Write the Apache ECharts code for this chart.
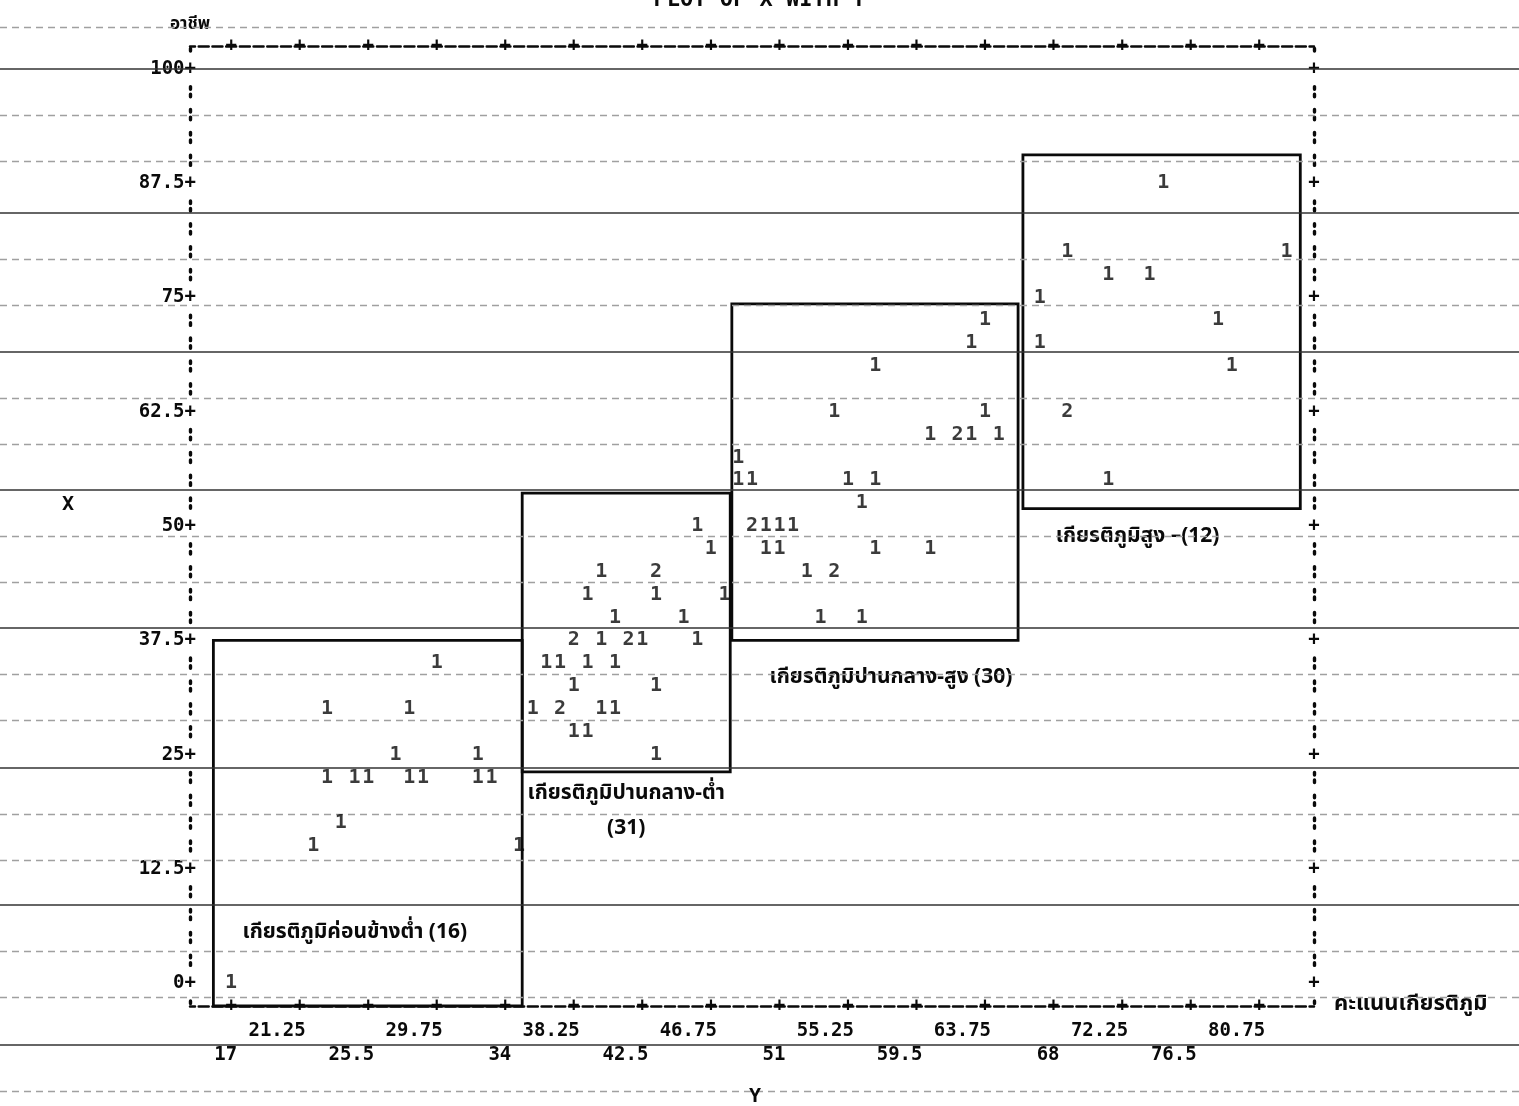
<!DOCTYPE html>
<html>
<head>
<meta charset="utf-8">
<script src="https://cdn.jsdelivr.net/npm/echarts@6/dist/echarts.min.js"></script>
<style>
html,body{margin:0;padding:0;background:#fff;}
#chart{width:1519px;height:1106px;}
</style>
</head>
<body>
<div id="chart"></div>
<script>
// ---------------- DATA ----------------
const xTickValues = [17, 21.25, 25.5, 29.75, 34, 38.25, 42.5, 46.75, 51, 55.25, 59.5, 63.75, 68, 72.25, 76.5, 80.75];
const yTickValues = [0, 12.5, 25, 37.5, 50, 62.5, 75, 87.5, 100];

// Y score (prestige score) of each plotted character
const pointX = [
  // group 1
  29.75, 22.95, 28.05, 27.2, 32.3, 22.95, 24.65, 25.5, 28.05, 28.9, 32.3, 33.15, 23.8, 22.1, 34.85, 17,
  // group 2
  45.9, 46.75, 39.95, 43.35, 39.1, 43.35, 47.6, 40.8, 45.05, 38.25, 39.95, 41.65, 42.5, 45.9,
  36.55, 37.4, 39.1, 40.8, 38.25, 43.35, 35.7, 37.4, 39.95, 40.8, 38.25, 39.1, 43.35,
  // group 3
  63.75, 62.9, 56.95, 54.4, 63.75, 60.35, 62.05, 62.9, 64.6, 48.45, 48.45, 49.3, 55.25, 56.95,
  56.1, 49.3, 50.15, 51, 51.85, 50.15, 51, 56.95, 60.35, 52.7, 54.4, 53.55, 56.1,
  // group 4
  74.8, 68.85, 82.45, 71.4, 73.95, 67.15, 78.2, 67.15, 79.05, 68.85, 71.4
];
// X (occupation) of each plotted character
const pointY = [
  35, 30, 30, 25, 25, 22.5, 22.5, 22.5, 22.5, 22.5, 22.5, 22.5, 17.5, 15, 15, 0,
  50, 47.5, 45, 45, 42.5, 42.5, 42.5, 40, 40, 37.5, 37.5, 37.5, 37.5, 37.5,
  35, 35, 35, 35, 32.5, 32.5, 30, 30, 30, 30, 27.5, 27.5, 25,
  72.5, 70, 67.5, 62.5, 62.5, 60, 60, 60, 60, 57.5, 55, 55, 55, 55,
  52.5, 50, 50, 50, 50, 47.5, 47.5, 47.5, 47.5, 45, 45, 40, 40,
  87.5, 80, 80, 77.5, 77.5, 75, 72.5, 70, 67.5, 62.5, 55
];
// number of cases printed at each position
const pointCount = [
  1, 1, 1, 1, 1, 1, 1, 1, 1, 1, 1, 1, 1, 1, 1, 1,
  1, 1, 1, 2, 1, 1, 1, 1, 1, 2, 1, 2, 1, 1,
  1, 1, 1, 1, 1, 1, 1, 2, 1, 1, 1, 1, 1,
  1, 1, 1, 1, 1, 1, 2, 1, 1, 1, 1, 1, 1, 1,
  1, 2, 1, 1, 1, 1, 1, 1, 1, 1, 2, 1, 1,
  1, 1, 1, 1, 1, 1, 1, 1, 1, 2, 1
];

// prestige groups (hand-drawn boxes)
const groupNames = ['เกียรติภูมิค่อนข้างต่ำ', 'เกียรติภูมิปานกลาง-ต่ำ', 'เกียรติภูมิปานกลาง-สูง', 'เกียรติภูมิสูง –'];
const groupCounts = [16, 31, 30, 12];
const boxXMin = [15.9, 35.05, 48.05, 66.1];
const boxXMax = [35.05, 47.95, 65.8, 83.3];
const boxYMin = [-2.5, 23.1, 37.5, 51.9];
const boxYMax = [37.5, 53.6, 74.3, 90.6];

// ---------------- STYLE / LAYOUT ----------------
const MONO = "'DejaVu Sans Mono', 'Liberation Mono', monospace";
const THAI = "'Noto Sans Thai', 'Noto Sans Thai Looped', 'Loma', 'Garuda', 'Noto Sans', 'DejaVu Sans', sans-serif";
const INK = '#0a0a0a';
const X_MIN = 14.45, X_MAX = 84.15, Y_MIN = -2.5, Y_MAX = 102.5;
const LABEL_SHIFT = 0.372;           // tick labels end at the right edge of the tick cell
const colonDash = [2.6, 5, 2.6, 12.657];
const dashRule = [10, 3.714];
// paper rulings (page pixel rows)
const ruleSolid = [69, 213, 352, 490, 628, 768, 905, 1045];
const ruleDotted = [27, 115, 161, 259, 305, 398, 444, 536, 582, 674, 720, 814, 860, 951, 997, 1091];

const labelSep = [' ', '\n', ' ', ''];
const boxLabelStyle = [
  {position: 'insideBottom', distance: 60, offset: [-13, 0], lineHeight: 28},
  {position: 'bottom', distance: 4, offset: [0, 0], lineHeight: 35},
  {position: 'bottom', distance: 21, offset: [16, 0], lineHeight: 32},
  {position: 'bottom', distance: 12, offset: [-24, 0], lineHeight: 32}
];

const chart = echarts.init(document.getElementById('chart'), null, {renderer: 'canvas'});

const plusRich = {
  n: {fontFamily: MONO, fontWeight: 'bold', fontSize: 19, color: INK},
  p: {fontFamily: MONO, fontWeight: 'bold', fontSize: 19, color: INK, backgroundColor: '#fff', lineHeight: 20}
};

const option = {
  animation: false,
  backgroundColor: '#fff',
  grid: [
    {left: 190, right: 205, top: 46, bottom: 100, containLabel: false},
    {left: 0, right: 0, top: 0, bottom: 0, containLabel: false}
  ],
  xAxis: [
    { // bottom axis line with + ticks
      type: 'value', gridIndex: 0, position: 'bottom', min: X_MIN, max: X_MAX,
      axisLine: {show: true, onZero: false, lineStyle: {color: INK, width: 2.5, type: dashRule, dashOffset: 5}},
      axisTick: {show: false}, splitLine: {show: false},
      axisLabel: {show: true, customValues: xTickValues, formatter: () => '+', margin: 0,
        verticalAlign: 'middle', align: 'center', fontFamily: MONO, fontWeight: 'bold', fontSize: 19, color: INK},
      name: 'คะแนนเกียรติภูมิ', nameLocation: 'end', nameGap: 20,
      nameTextStyle: {fontFamily: THAI, fontWeight: 'bold', fontSize: 22, color: INK, verticalAlign: 'middle', align: 'left'}
    },
    { // top axis line with + ticks
      type: 'value', gridIndex: 0, position: 'top', min: X_MIN, max: X_MAX,
      axisLine: {show: true, onZero: false, lineStyle: {color: INK, width: 2.5, type: dashRule, dashOffset: 5}},
      axisTick: {show: false}, splitLine: {show: false},
      axisLabel: {show: true, customValues: xTickValues, formatter: () => '+', margin: 0,
        verticalAlign: 'middle', align: 'center', fontFamily: MONO, fontWeight: 'bold', fontSize: 19, color: INK}
    },
    { // numeric tick labels in two rows
      type: 'value', gridIndex: 0, position: 'bottom', min: X_MIN - LABEL_SHIFT, max: X_MAX - LABEL_SHIFT,
      axisLine: {show: false, onZero: false}, axisTick: {show: false}, splitLine: {show: false},
      axisLabel: {show: true, customValues: xTickValues, margin: 13, lineHeight: 24,
        align: 'right', verticalAlign: 'top',
        formatter: (v) => {
          const k = Math.round((v - xTickValues[0]) / (xTickValues[1] - xTickValues[0]));
          return k % 2 === 0 ? '\n' + String(v) : String(v);
        },
        fontFamily: MONO, fontWeight: 'bold', fontSize: 19, color: INK}
    },
    {type: 'value', gridIndex: 1, min: 0, max: 1, show: false}
  ],
  yAxis: [
    { // left axis
      type: 'value', gridIndex: 0, position: 'left', min: Y_MIN, max: Y_MAX,
      axisLine: {show: true, onZero: false, lineStyle: {color: INK, width: 3.4, type: colonDash, dashOffset: 5.1}},
      axisTick: {show: false}, splitLine: {show: false},
      axisLabel: {show: true, customValues: yTickValues, margin: -6, align: 'right', verticalAlign: 'middle',
        formatter: (v) => '{n|' + String(v) + '}{p|+}', rich: plusRich},
      name: 'อาชีพ', nameLocation: 'end', nameGap: 12,
      nameTextStyle: {fontFamily: THAI, fontWeight: 'bold', fontSize: 17, color: INK, align: 'center'}
    },
    { // right axis
      type: 'value', gridIndex: 0, position: 'right', min: Y_MIN, max: Y_MAX,
      axisLine: {show: true, onZero: false, lineStyle: {color: INK, width: 3.4, type: colonDash, dashOffset: 5.1}},
      axisTick: {show: false}, splitLine: {show: false},
      axisLabel: {show: true, customValues: yTickValues, margin: 0, align: 'center', verticalAlign: 'middle',
        formatter: () => '{p|+}', rich: plusRich}
    },
    {type: 'value', gridIndex: 1, min: 0, max: 1106, inverse: true, show: false}
  ],
  series: [
    { // paper rulings
      type: 'line', xAxisIndex: 3, yAxisIndex: 2, data: [], silent: true, z: 0,
      markLine: {
        silent: true, symbol: ['none', 'none'], label: {show: false}, animation: false,
        emphasis: {disabled: true},
        data: ruleSolid.map(v => ({yAxis: v, lineStyle: {color: '#333', width: 1.6, type: 'solid'}}))
          .concat(ruleDotted.map(v => ({yAxis: v, lineStyle: {color: '#a0a0a0', width: 1.4, type: [7, 5]}})))
      }
    },
    { // group boxes
      type: 'scatter', xAxisIndex: 0, yAxisIndex: 0, data: [], silent: true, z: 3,
      markArea: {
        silent: true,
        itemStyle: {color: 'rgba(0,0,0,0)', borderColor: INK, borderWidth: 2.8},
        emphasis: {disabled: true},
        data: groupNames.map((name, i) => [
          {
            coord: [boxXMin[i], boxYMax[i]],
            name: name,
            label: Object.assign({
              show: true,
              formatter: name + labelSep[i] + '(' + groupCounts[i] + ')',
              fontFamily: THAI, fontWeight: 'bold', fontSize: 21, color: INK, align: 'center'
            }, boxLabelStyle[i])
          },
          {coord: [boxXMax[i], boxYMin[i]]}
        ])
      }
    },
    { // plotted case counts
      type: 'scatter', xAxisIndex: 0, yAxisIndex: 0, silent: true, z: 5,
      data: pointX.map((x, i) => [x, pointY[i], pointCount[i]]),
      symbol: 'circle', symbolSize: 1,
      itemStyle: {color: 'rgba(0,0,0,0)'},
      label: {show: true, position: 'inside', formatter: (p) => String(p.value[2]),
        fontFamily: MONO, fontWeight: 'bold', fontSize: 20, color: INK},
      emphasis: {disabled: true}
    }
  ],
  graphic: [
    {type: 'text', left: 'center', silent: true, style: {text: 'PLOT OF X WITH Y', x: 0, y: 0,
      font: 'bold 22px ' + MONO, fill: INK}, position: [0, -11], z: 10},
    {type: 'text', silent: true, style: {text: 'X', x: 68, y: 505, align: 'center', verticalAlign: 'middle',
      font: 'bold 20px ' + MONO, fill: INK}, z: 10},
    {type: 'text', silent: true, style: {text: 'Y', x: 755, y: 1097, align: 'center', verticalAlign: 'middle',
      font: 'bold 20px ' + MONO, fill: INK}, z: 10}
  ]
};

chart.setOption(option);
</script>
</body>
</html>
